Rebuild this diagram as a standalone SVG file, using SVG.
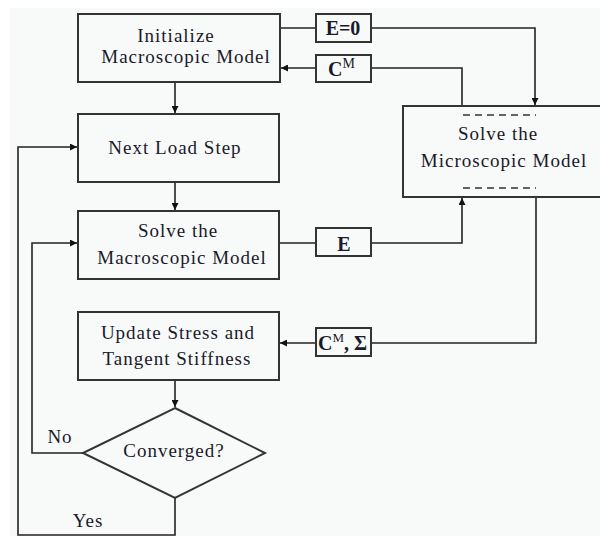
<svg xmlns="http://www.w3.org/2000/svg" width="600" height="536" viewBox="0 0 600 536">
<defs>
<marker id="ah" viewBox="0 0 10 10" refX="10" refY="5" markerWidth="9" markerHeight="7" markerUnits="userSpaceOnUse" orient="auto">
<path d="M0,0 L10,5 L0,10 Z" fill="#111"/>
</marker>
<style>
.box{fill:none;stroke:#333;stroke-width:2}
.lbl{fill:none;stroke:#333;stroke-width:2}
.t{font-family:"Liberation Serif","Times New Roman",serif;font-size:19px;letter-spacing:1px;fill:#1a1a2a;text-anchor:middle}
.b{font-family:"Liberation Serif","Times New Roman",serif;font-size:20px;font-weight:bold;fill:#1a1a2a}
.c{fill:none;stroke:#222;stroke-width:1.6}
.d{fill:none;stroke:#333;stroke-width:1.6;stroke-dasharray:7 5}
</style>
</defs>
<rect x="0" y="0" width="600" height="536" fill="#ffffff"/>
<rect x="10" y="8" width="590" height="528" fill="#f8f9f9"/>

<g id="connectors">
<path class="c" d="M175,82 V113" marker-end="url(#ah)"/>
<path class="c" d="M175,182 V210" marker-end="url(#ah)"/>
<path class="c" d="M175,380 V407" marker-end="url(#ah)"/>
<path class="c" d="M175,498 V535 H18 V147 H77" marker-end="url(#ah)"/>
<path class="c" d="M83,453 H32 V243 H77" marker-end="url(#ah)"/>
<path class="c" d="M280,28 H316"/>
<path class="c" d="M371,28 H535 V105" marker-end="url(#ah)"/>
<path class="c" d="M462,106 V68 H371"/>
<path class="c" d="M316,68 H281" marker-end="url(#ah)"/>
<path class="c" d="M279,243 H316"/>
<path class="c" d="M371,243 H462 V198" marker-end="url(#ah)"/>
<path class="c" d="M536,197 V343 H371"/>
<path class="c" d="M316,343 H280" marker-end="url(#ah)"/>
</g>

<g id="init">
<rect class="box" x="78" y="14" width="202" height="68"/>
<text class="t" x="176" y="42">Initialize</text>
<text class="t" x="186" y="63">Macroscopic Model</text>
</g>
<g id="nextload">
<rect class="box" x="78" y="114" width="201" height="68"/>
<text class="t" x="175" y="154">Next Load Step</text>
</g>
<g id="solvemacro">
<rect class="box" x="78" y="211" width="201" height="68"/>
<text class="t" x="178" y="237">Solve the</text>
<text class="t" x="182" y="264">Macroscopic Model</text>
</g>
<g id="update">
<rect class="box" x="78" y="312" width="201" height="68"/>
<text class="t" x="178" y="339">Update Stress and</text>
<text class="t" x="177" y="365">Tangent Stiffness</text>
</g>
<g id="converged">
<polygon class="box" points="175,408 265,453 175,498 83,453"/>
<text class="t" x="174" y="457">Converged?</text>
<text class="t" x="60" y="443">No</text>
<text class="t" x="88" y="527">Yes</text>
</g>
<g id="solvemicro">
<rect class="box" x="403" y="106" width="205" height="91"/>
<line class="d" x1="463" y1="115" x2="536" y2="115"/>
<line class="d" x1="463" y1="188" x2="536" y2="188"/>
<text class="t" x="498" y="140">Solve the</text>
<text class="t" x="504" y="167">Microscopic Model</text>
</g>
<g id="lbl-e0">
<rect class="lbl" x="316" y="14" width="55" height="28"/>
<text class="b" x="343" y="35" text-anchor="middle">E=0</text>
</g>
<g id="lbl-cm">
<rect class="lbl" x="316" y="55" width="55" height="27"/>
<text class="b" x="328" y="76">C<tspan font-size="14" font-weight="normal" dy="-8">M</tspan></text>
</g>
<g id="lbl-e">
<rect class="lbl" x="316" y="228" width="55" height="28"/>
<text class="b" x="344" y="251" text-anchor="middle">E</text>
</g>
<g id="lbl-cms">
<rect class="lbl" x="316" y="328" width="55" height="28"/>
<text class="b" x="318" y="350">C<tspan font-size="13" font-weight="normal" dy="-8">M</tspan><tspan dy="8">, Σ</tspan></text>
</g>
</svg>
